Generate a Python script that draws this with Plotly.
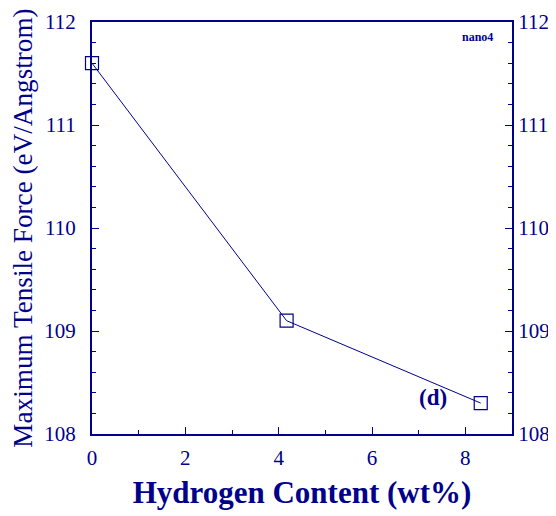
import plotly.graph_objects as go

hydrogen = [0.0, 4.17, 8.33]
force = [111.6, 109.1, 108.3]
x_ticks = [0, 2, 4, 6, 8]
y_ticks = [108, 109, 110, 111, 112]

navy = "#00008B"
font = "Liberation Serif"

fig = go.Figure()
fig.add_trace(go.Scatter(
    x=hydrogen, y=force, mode="lines+markers",
    line=dict(color=navy, width=1),
    marker=dict(symbol="square-open", size=13, color=navy, line=dict(width=1.2)),
    showlegend=False, cliponaxis=False,
))
fig.add_trace(go.Scatter(
    x=hydrogen, y=force, yaxis="y2", mode="markers",
    marker=dict(opacity=0), showlegend=False, hoverinfo="skip",
))

fig.update_layout(
    width=556, height=516,
    margin=dict(l=84, r=52, t=14, b=90),
    paper_bgcolor="white", plot_bgcolor="white",
    font=dict(family=font, color=navy),
    xaxis=dict(
        range=[0, 9], tickvals=x_ticks, ticks="inside", ticklen=7, tickwidth=1,
        tickcolor=navy, showline=True, linecolor=navy, linewidth=2, mirror=True,
        showgrid=False, zeroline=False, automargin=False, ticklabelstandoff=4,
        tickfont=dict(size=21, family=font, color=navy),
        minor=dict(dtick=1, ticks="inside", ticklen=4, tickcolor=navy),
        title=dict(text="<b>Hydrogen Content (wt%)</b>", font=dict(size=31, family=font, color=navy), standoff=12),
    ),
    yaxis=dict(
        range=[108, 112], tickvals=y_ticks, ticks="inside", ticklen=7, tickwidth=1,
        tickcolor=navy, showline=True, linecolor=navy, linewidth=2,
        showgrid=False, zeroline=False, automargin=False, ticklabelstandoff=10,
        tickfont=dict(size=21, family=font, color=navy),
        minor=dict(dtick=0.2, ticks="inside", ticklen=4, tickcolor=navy),
        title=dict(text="Maximum Tensile Force (eV/Angstrom)", font=dict(size=27.2, family=font, color=navy), standoff=4),
    ),
    yaxis2=dict(
        range=[108, 112], tickvals=y_ticks, overlaying="y", side="right", anchor="x",
        ticks="inside", ticklen=7, tickwidth=1, tickcolor=navy,
        showline=True, linecolor=navy, linewidth=2, showgrid=False, zeroline=False,
        automargin=False, ticklabelstandoff=0,
        tickfont=dict(size=21, family=font, color=navy),
        minor=dict(dtick=0.2, ticks="inside", ticklen=4, tickcolor=navy),
    ),
    annotations=[
        dict(x=0.96, y=0.985, xref="paper", yref="paper", text="<b>nano4</b>", showarrow=False,
             xanchor="right", yanchor="top", font=dict(size=12, family=font, color=navy)),
        dict(x=7.3, y=108.35, xref="x", yref="y", text="<b>(d)</b>", showarrow=False,
             font=dict(size=23, family=font, color=navy)),
    ],
)
fig.write_html("out.html")
